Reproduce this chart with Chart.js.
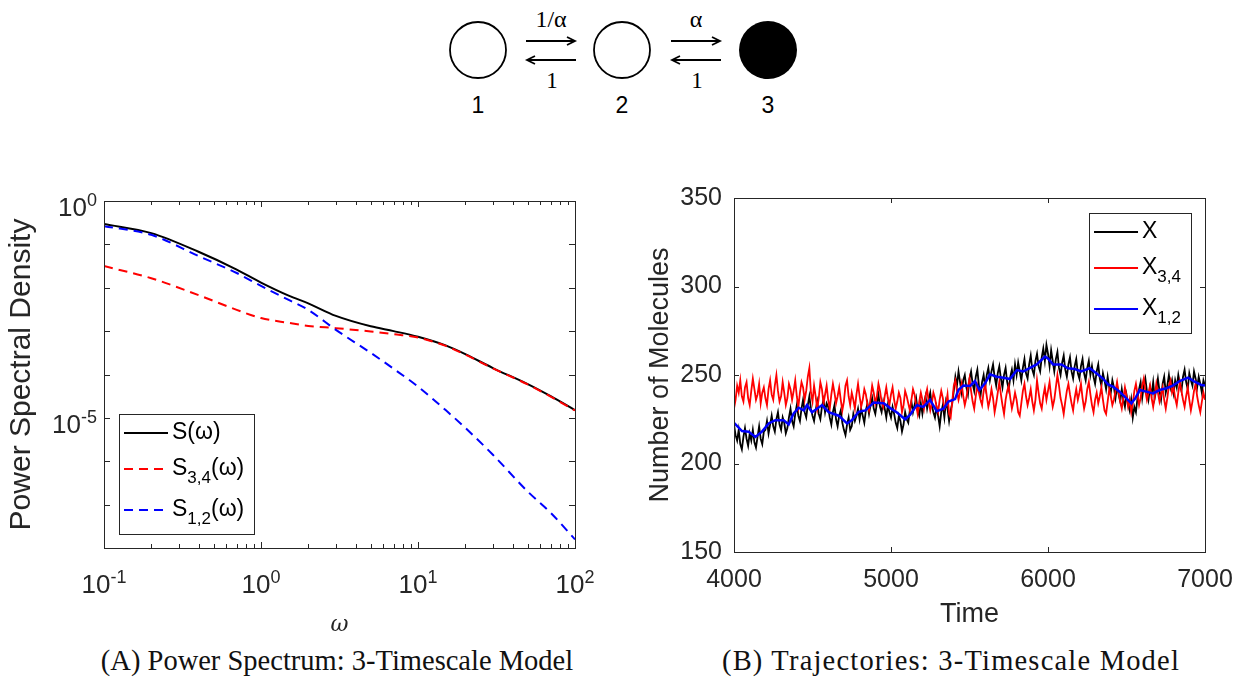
<!DOCTYPE html>
<html>
<head>
<meta charset="utf-8">
<script src="https://cdn.jsdelivr.net/npm/chart.js@4.4.1/dist/chart.umd.min.js"></script>
<style>
  body { margin: 0; width: 1250px; height: 686px; background: #fff; position: relative; overflow: hidden; }
  #diagram { position: absolute; left: 0; top: 0; }
  #specWrap { position: absolute; left: 0; top: 170px; width: 600px; height: 470px; }
  #trajWrap { position: absolute; left: 620px; top: 170px; width: 630px; height: 470px; }
  .caption { position: absolute; top: 645px; width: 640px; text-align: center;
             font-family: "Liberation Serif", "DejaVu Serif", serif; font-size: 28.5px; color: #111; white-space: nowrap; }
</style>
</head>
<body>

<!-- reaction scheme 1 <-> 2 <-> 3 -->
<svg id="diagram" width="1250" height="140" xmlns="http://www.w3.org/2000/svg">
  <g stroke="#000" stroke-width="1.8" fill="none">
    <circle cx="478" cy="50" r="28"/>
    <circle cx="622" cy="50" r="28"/>
    <line x1="526" y1="41" x2="575" y2="41"/><polyline points="567,37 575,41 567,45"/>
    <line x1="527" y1="60" x2="576" y2="60"/><polyline points="535,56 527,60 535,64"/>
    <line x1="671" y1="41" x2="720" y2="41"/><polyline points="712,37 720,41 712,45"/>
    <line x1="672" y1="60" x2="721" y2="60"/><polyline points="680,56 672,60 680,64"/>
  </g>
  <circle cx="768" cy="50" r="29" fill="#000"/>
  <g font-family="Liberation Serif, serif" text-anchor="middle" fill="#000">
    <text x="551" y="27" font-size="24">1/α</text>
    <text x="552" y="88" font-size="23">1</text>
    <text x="696" y="27" font-size="24">α</text>
    <text x="697" y="88" font-size="23">1</text>
  </g>
  <g font-family="Liberation Sans, Arial, sans-serif" font-size="23" text-anchor="middle" fill="#000">
    <text x="478" y="113">1</text>
    <text x="622" y="113">2</text>
    <text x="768" y="113">3</text>
  </g>
</svg>

<div id="specWrap"><canvas id="specChart"></canvas></div>
<div id="trajWrap"><canvas id="trajChart"></canvas></div>

<div class="caption" style="left:17px">(A) Power Spectrum: 3-Timescale Model</div>
<div class="caption" style="left:631px; letter-spacing:1.2px">(B) Trajectories: 3-Timescale Model</div>

<script>
// ---------- Panel A: power spectra ----------
const omega    = [0.1, 0.2, 0.4, 0.7, 1, 1.5, 2, 3, 5, 7, 10, 15, 20, 30, 50, 70, 100];
const psdTotal = [0.295, 0.182, 0.0676, 0.0263, 0.0132, 0.0066, 0.00437, 0.00224, 0.00129, 0.0010,
                  7.4e-4, 4.68e-4, 2.95e-4, 1.41e-4, 6.0e-5, 3.16e-5, 1.51e-5];
const psd34    = [0.0316, 0.0166, 0.00676, 0.00309, 0.0020, 0.00155, 0.00132, 0.00117, 9.8e-4, 8.5e-4,
                  7.1e-4, 4.57e-4, 2.88e-4, 1.38e-4, 5.9e-5, 3.09e-5, 1.48e-5];
const psd12    = [0.263, 0.166, 0.0537, 0.0219, 0.011, 0.00525, 0.00309, 0.00107, 3.16e-4, 1.35e-4,
                  5.25e-5, 1.51e-5, 5.9e-6, 1.41e-6, 2.0e-7, 6.5e-8, 1.58e-8];
const psdNames = ['S', 'S', 'S'];
const psdSubs  = ['', '3,4', '1,2'];
const psdTail  = '(ω)';

const omegaDecades = [0.1, 1, 10, 100];
const psdDecades   = [1e-8, 1e-7, 1e-6, 1e-5, 1e-4, 1e-3, 1e-2, 1e-1, 1];
const psdLabeled   = [1e-5, 1];

// ---------- Panel B: trajectories (sampled every 10 time units) ----------
const timeStart = 4000, timeStep = 10;
const xTotal = [
  222,216,213,219,211,208,215,220,214,210,217,213,219,212,209,215,221,214,211,218,
  219,224,217,222,227,221,218,225,229,222,219,226,223,217,220,226,231,224,221,228,
  233,227,224,231,236,229,226,233,238,231,227,224,230,235,228,225,232,236,229,234,
  232,226,222,229,233,225,221,227,230,223,219,216,222,226,219,221,228,224,227,231,
  225,231,227,223,230,234,228,233,237,231,228,234,239,232,229,235,231,226,233,229,
  226,232,228,223,220,227,224,218,222,229,225,223,230,235,229,233,237,230,227,234,
  228,234,238,231,236,240,233,229,226,232,227,221,229,233,226,235,231,224,230,234,
  241,249,244,252,246,240,247,250,243,239,248,252,245,241,249,253,244,238,246,250,
  243,250,254,247,252,256,249,244,251,255,248,243,250,254,246,242,249,253,247,256,
  250,257,252,247,254,259,251,248,256,261,253,250,258,262,255,252,260,265,258,267,
  262,255,264,258,252,259,263,254,250,257,261,253,249,256,260,252,248,255,259,251,
  248,255,259,251,247,254,258,250,255,249,245,252,256,248,244,251,247,242,249,243,
  240,247,243,237,244,239,235,242,236,232,239,234,230,236,226,232,229,237,242,246,
  237,244,248,241,236,243,239,246,237,242,248,241,236,245,249,240,244,250,243,247,
  240,247,243,250,245,241,249,253,246,242,251,247,244,252,248,243,249,245,240,247,
  244];
const x34 = [
  231,236,244,240,247,238,235,243,246,237,233,241,248,242,236,239,245,234,240,243,
  237,233,242,247,239,236,244,250,241,235,238,246,240,233,237,245,242,236,241,247,
  238,232,240,246,243,236,241,249,254,240,235,244,238,231,237,246,242,234,239,244,
  236,231,239,245,240,234,238,243,236,230,235,244,247,238,233,240,236,231,239,245,
  238,232,236,242,239,233,230,237,244,240,234,238,245,241,235,232,238,243,237,233,
  239,243,236,231,235,240,237,229,233,241,238,234,230,236,242,239,233,228,235,240,
  236,231,238,242,235,230,234,240,237,232,229,236,241,237,231,233,239,228,226,235,
  244,247,241,236,240,245,238,233,237,243,248,241,235,231,238,244,240,236,233,241,
  245,238,232,236,242,237,229,234,240,246,239,233,228,236,241,244,237,231,235,240,
  236,229,227,234,241,245,238,233,237,242,235,230,236,247,240,234,231,238,243,236,
  241,246,238,232,236,243,250,244,237,233,228,235,241,245,239,234,230,237,242,236,
  240,245,237,231,235,242,246,239,233,229,236,240,234,238,243,236,230,228,235,242,
  238,233,236,241,246,240,235,231,237,243,238,232,236,229,234,241,245,239,233,237,
  244,248,241,236,240,244,237,232,238,245,240,235,239,243,236,231,237,244,247,240,
  243,237,233,240,246,241,236,232,238,243,236,230,235,241,245,238,233,229,235,240,
  236];
const x12Time = [4000,4051,4093,4136,4178,4221,4263,4316,4348,4380,4412,4444,4465,4497,4561,
  4603,4667,4720,4752,4794,4837,4890,4953,5000,5036,5090,5121,5164,5206,5249,5291,5334,5366,
  5408,5429,5461,5504,5535,5563,5599,5631,5673,5716,5758,5801,5843,5886,5928,5981,6000,6032,
  6085,6127,6170,6212,6265,6308,6350,6382,6414,6456,6499,6531,6556,6584,6626,6669,6711,6754,
  6796,6839,6892,6934,6977,7000];
const x12 = [223,218.3,218,215,218,222.6,224.5,224.5,222,228.3,231.5,230,233,229,233,
  229,227,222.6,224.5,229.2,230,234.5,234,231,229,225,227.4,233,232,236,229.6,231,235,
  236.4,241.5,244,243.8,246.6,241.5,245.3,250.4,249,248.5,247.7,252.8,252,254,256,260.4,259.4,256,
  256,253.8,253.4,252,253.8,251,248,244.7,243.4,240.6,236.8,234,236.8,241.5,240.6,239.6,241.5,242.5,
  244,246.6,248.5,246.2,244.3,244];
const trajNames = ['X', 'X', 'X'];
const trajSubs  = ['', '3,4', '1,2'];
const timeTicks  = [4000, 5000, 6000, 7000];
const countTicks = [150, 200, 250, 300, 350];

const timeGrid = xTotal.map((_, i) => timeStart + i * timeStep);

const AXIS = '#262626';
const FONT = '"Liberation Sans", Arial, Helvetica, sans-serif';
Chart.defaults.font.family = FONT;
Chart.defaults.color = AXIS;

// box around the plot area with inward ticks on all four sides (MATLAB style)
const boxTicks = {
  id: 'boxTicks',
  afterDraw(chart, args, opts) {
    const { ctx, chartArea: a, scales } = chart;
    ctx.save();
    ctx.strokeStyle = AXIS;
    ctx.lineWidth = 1;
    ctx.beginPath();
    scales.x.ticks.forEach(t => {
      const px = Math.round(scales.x.getPixelForValue(t.value)) + 0.5;
      const len = t.major ? opts.major : opts.minor;
      ctx.moveTo(px, a.bottom); ctx.lineTo(px, a.bottom - len);
      ctx.moveTo(px, a.top); ctx.lineTo(px, a.top + len);
    });
    scales.y.ticks.forEach(t => {
      const py = Math.round(scales.y.getPixelForValue(t.value)) + 0.5;
      const len = t.major ? opts.major : opts.minor;
      ctx.moveTo(a.left, py); ctx.lineTo(a.left + len, py);
      ctx.moveTo(a.right, py); ctx.lineTo(a.right - len, py);
    });
    ctx.stroke();
    ctx.strokeRect(Math.round(a.left) + 0.5, Math.round(a.top) + 0.5,
                   Math.round(a.right - a.left), Math.round(a.bottom - a.top));
    ctx.restore();
  }
};

// legend drawn inside the axes, with subscripts
function drawLabel(ctx, main, sub, tail, x, y) {
  ctx.font = '23px ' + FONT;
  ctx.fillText(main, x, y);
  let w = ctx.measureText(main).width;
  if (sub) {
    ctx.font = '17px ' + FONT;
    ctx.fillText(sub, x + w, y + 9);
    w += ctx.measureText(sub).width;
    ctx.font = '23px ' + FONT;
  }
  if (tail) {
    ctx.fillText(tail, x + w, y);
    w += ctx.measureText(tail).width;
  }
  return w;
}

const boxLegend = {
  id: 'boxLegend',
  afterDraw(chart, args, opts) {
    const { ctx, chartArea: a } = chart;
    const sets = chart.data.datasets;
    ctx.save();
    ctx.textBaseline = 'middle';
    ctx.textAlign = 'left';
    let tw = 0;
    ctx.globalAlpha = 0;
    sets.forEach(d => { tw = Math.max(tw, drawLabel(ctx, d.legendMain, d.legendSub, opts.tail, 0, -100)); });
    ctx.globalAlpha = 1;
    const w = 53 + tw + 10, h = 120;
    const left = opts.corner === 'bl' ? a.left + 15 : a.right - 14 - w;
    const top = opts.corner === 'bl' ? a.bottom - 14 - h : a.top + 15;
    ctx.fillStyle = '#fff';
    ctx.fillRect(left, top, w, h);
    ctx.strokeStyle = AXIS;
    ctx.lineWidth = 1;
    ctx.strokeRect(Math.round(left) + 0.5, Math.round(top) + 0.5, Math.round(w), h);
    const rows = [19, 55, 96];
    sets.forEach((d, i) => {
      const y = top + rows[i];
      ctx.strokeStyle = d.borderColor;
      ctx.lineWidth = 2;
      ctx.setLineDash(d.borderDash || []);
      ctx.beginPath(); ctx.moveTo(left + 5, y); ctx.lineTo(left + 49, y); ctx.stroke();
      ctx.setLineDash([]);
      ctx.fillStyle = '#000';
      drawLabel(ctx, d.legendMain, d.legendSub, opts.tail, left + 53, y);
    });
    ctx.restore();
  }
};

// 10^n tick labels with a raised exponent
function drawPower(ctx, exp, x, baseline, align) {
  const base = '26px ' + FONT, sup = '18px ' + FONT;
  const es = String(exp);
  ctx.font = base; const wb = ctx.measureText('10').width;
  ctx.font = sup;  const we = ctx.measureText(es).width;
  const left = align === 'center' ? x - (wb + we) / 2 : x - wb - we;
  ctx.font = base; ctx.fillText('10', left, baseline);
  ctx.font = sup;  ctx.fillText(es, left + wb, baseline - 10);
}

const powerLabels = {
  id: 'powerLabels',
  afterDraw(chart) {
    const { ctx, chartArea: a, scales } = chart;
    ctx.save();
    ctx.fillStyle = AXIS;
    ctx.textAlign = 'left';
    ctx.textBaseline = 'alphabetic';
    omegaDecades.forEach(v => {
      drawPower(ctx, Math.round(Math.log10(v)), scales.x.getPixelForValue(v), a.bottom + 45, 'center');
    });
    psdLabeled.forEach(v => {
      drawPower(ctx, Math.round(Math.log10(v)), a.left - 7, scales.y.getPixelForValue(v) + 15, 'right');
    });
    ctx.restore();
  }
};

const omegaTicks = [];
omegaDecades.slice(0, 3).forEach(d => {
  for (let m = 1; m <= 9; m++) omegaTicks.push({ value: m * d, major: m === 1 });
});
omegaTicks.push({ value: 100, major: true });

function noPad(s) { s.paddingTop = 0; s.paddingBottom = 0; s.paddingLeft = 0; s.paddingRight = 0; }

function psdSet(values, color, dash, i, order) {
  return {
    data: omega.map((w, k) => ({ x: w, y: values[k] })),
    borderColor: color, borderWidth: 2, borderDash: dash,
    pointRadius: 0, cubicInterpolationMode: 'monotone', order: order,
    legendMain: psdNames[i], legendSub: psdSubs[i]
  };
}

new Chart(document.getElementById('specChart'), {
  type: 'line',
  data: {
    datasets: [
      psdSet(psdTotal, '#000000', [], 0, 2),
      psdSet(psd34, '#ff0000', [9, 6], 1, 1),
      psdSet(psd12, '#0000ff', [9, 6], 2, 0)
    ]
  },
  options: {
    responsive: true, maintainAspectRatio: false, animation: false,
    layout: { padding: { top: 31, right: 25, left: 0, bottom: 0 } },
    plugins: {
      legend: { display: false }, tooltip: { enabled: false },
      boxTicks: { major: 6, minor: 4 },
      boxLegend: { corner: 'bl', tail: psdTail }
    },
    scales: {
      x: {
        type: 'logarithmic', min: 0.1, max: 100,
        afterBuildTicks: s => { s.ticks = omegaTicks.slice(); },
        ticks: { display: false },
        grid: { display: false, drawTicks: false }, border: { display: false },
        title: { display: true, text: 'ω', color: AXIS,
                 font: { family: '"DejaVu Serif", serif', size: 22, style: 'italic' },
                 padding: { top: 0, bottom: 2 } },
        afterFit: s => { s.height = 92; noPad(s); }
      },
      y: {
        type: 'logarithmic', min: 1e-8, max: 1,
        afterBuildTicks: s => { s.ticks = psdDecades.map(v => ({ value: v, major: true })); },
        ticks: { display: false },
        grid: { display: false, drawTicks: false }, border: { display: false },
        title: { display: true, text: 'Power Spectral Density', color: AXIS,
                 font: { size: 30 }, padding: { top: 4, bottom: 0 } },
        afterFit: s => { s.width = 104; noPad(s); }
      }
    }
  },
  plugins: [boxTicks, boxLegend, powerLabels]
});

new Chart(document.getElementById('trajChart'), {
  type: 'line',
  data: {
    datasets: [
      { data: timeGrid.map((t, i) => ({ x: t, y: xTotal[i] })), borderColor: '#000000', borderWidth: 1.8,
        pointRadius: 0, order: 2, legendMain: trajNames[0], legendSub: trajSubs[0] },
      { data: timeGrid.map((t, i) => ({ x: t, y: x34[i] })), borderColor: '#ff0000', borderWidth: 1.8,
        pointRadius: 0, order: 1, legendMain: trajNames[1], legendSub: trajSubs[1] },
      { data: x12Time.map((t, i) => ({ x: t, y: x12[i] })), borderColor: '#0000ff', borderWidth: 2.5,
        pointRadius: 0, order: 0, legendMain: trajNames[2], legendSub: trajSubs[2] }
    ]
  },
  options: {
    responsive: true, maintainAspectRatio: false, animation: false,
    layout: { padding: { top: 28, right: 45, left: 0, bottom: 0 } },
    plugins: {
      legend: { display: false }, tooltip: { enabled: false },
      boxTicks: { major: 5, minor: 5 },
      boxLegend: { corner: 'tr', tail: '' }
    },
    scales: {
      x: {
        type: 'linear', min: 4000, max: 7000,
        afterBuildTicks: s => { s.ticks = timeTicks.map(v => ({ value: v, major: true })); },
        ticks: { font: { size: 25 }, color: AXIS, padding: 13, maxRotation: 0, callback: v => String(v) },
        grid: { display: false, drawTicks: false }, border: { display: false },
        title: { display: true, text: 'Time', color: AXIS, font: { size: 27 }, padding: { top: 0, bottom: 9 } },
        afterFit: s => { s.height = 88; noPad(s); }
      },
      y: {
        type: 'linear', min: 150, max: 350,
        afterBuildTicks: s => { s.ticks = countTicks.map(v => ({ value: v, major: true })); },
        ticks: { font: { size: 25 }, color: AXIS, padding: 12, callback: v => String(v) },
        grid: { display: false, drawTicks: false }, border: { display: false },
        title: { display: true, text: 'Number of Molecules', color: AXIS, font: { size: 27 }, padding: { top: 24, bottom: 0 } },
        afterFit: s => { s.width = 114; noPad(s); }
      }
    }
  },
  plugins: [boxTicks, boxLegend]
});
</script>
</body>
</html>
